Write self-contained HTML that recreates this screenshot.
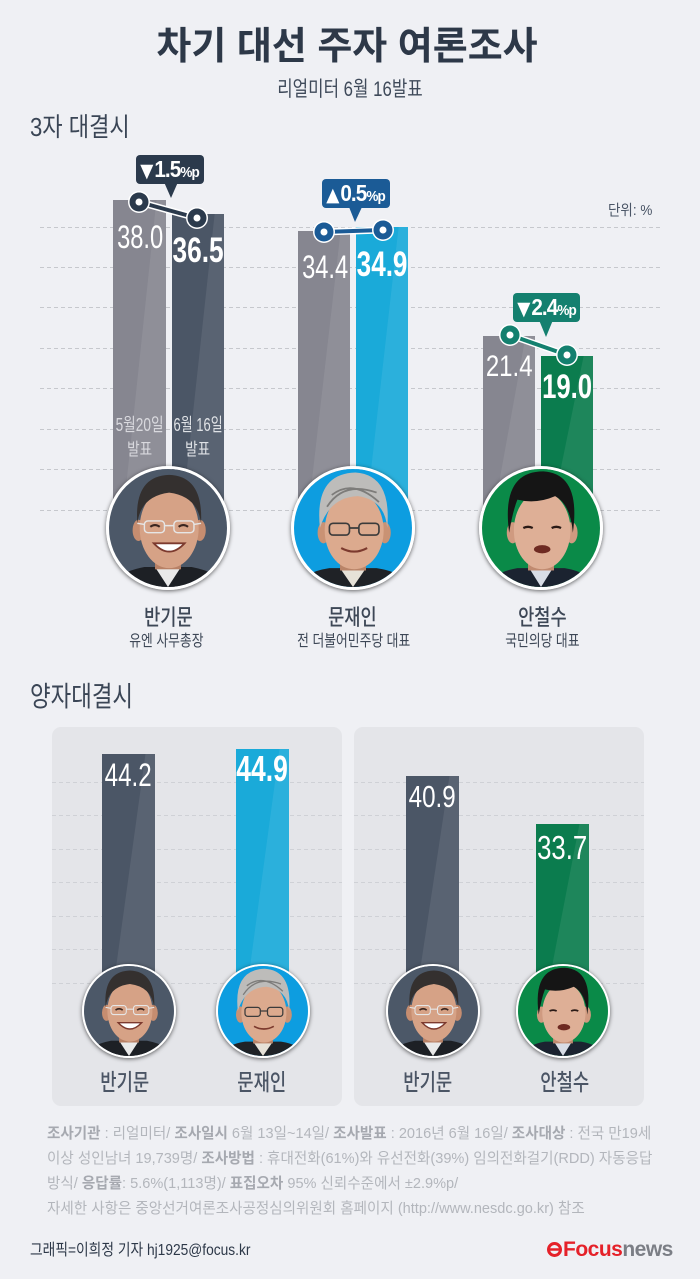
<!DOCTYPE html>
<html><head><meta charset="utf-8">
<style>
*{margin:0;padding:0;box-sizing:border-box}
html,body{width:700px;height:1279px;background:#eff0f4;overflow:hidden}
#w{position:relative;width:700px;height:1279px;background:#eff0f4;font-family:"Liberation Sans","Noto Sans CJK KR",sans-serif;overflow:hidden}
.c{position:absolute;width:0;display:flex;justify-content:center;white-space:nowrap;line-height:1}
.c>span{display:inline-block;flex:none}
.l{position:absolute;white-space:nowrap;line-height:1}
.l>span{display:inline-block;transform-origin:0 0}
.bar{position:absolute;overflow:hidden}
.bar::after{content:"";position:absolute;left:0;top:0;right:0;bottom:0;background:rgba(255,255,255,.08);clip-path:polygon(82% 0,100% 0,100% 100%,18% 100%)}
.ph{position:absolute;border-radius:50%;border:3px solid #fff;overflow:hidden;box-shadow:0 1px 4px rgba(0,0,0,.6)}
.ph svg{display:block;width:100%;height:100%}
.panel{position:absolute;background:#e4e5e9;border-radius:9px}
.n{color:#fff}
.badge{position:absolute;height:29px;border-radius:4px;display:flex;align-items:center;justify-content:center;color:#fff;white-space:nowrap;line-height:1}
.badge .g{display:inline-block;transform:scaleX(.9)}
.badge .t{font-family:"DejaVu Sans",sans-serif;font-size:19px;margin-right:1px}
.badge b{font-size:23px;letter-spacing:-1px}
.badge small{font-size:15px;font-weight:bold;letter-spacing:-1px}
.nm{color:#3d4756}
.ft{color:#b3b6bc;font-size:15px}
.ft b{color:#a6a9b0}
</style></head>
<body><div id="w">

<svg width="0" height="0" style="position:absolute">
<defs>
<g id="ban">
<rect x="-50" y="-50" width="100" height="100" fill="#4c5868"/>
<path d="M-50 52 Q-46 38 -20 33 L20 33 Q46 38 50 52Z" fill="#1d2025"/>
<path d="M-11 33 L0 50 L11 33Z" fill="#e9e9e9"/>
<rect x="-11" y="18" width="22" height="17" fill="#b88166"/>
<ellipse cx="-25" cy="2" rx="5" ry="9" fill="#c68d70"/>
<ellipse cx="27" cy="2" rx="5" ry="9" fill="#c68d70"/>
<ellipse cx="1" cy="0" rx="25" ry="34" fill="#d6a286"/>
<path d="M-26 -4 Q-29 -44 1 -45 Q30 -44 28 -4 Q25 -27 1 -30 Q-23 -27 -26 -4Z" fill="#34302f"/>
<g fill="none" stroke="#e6e6e6" stroke-width="1.2"><rect x="-20" y="-6" width="17" height="10" rx="3"/><rect x="5" y="-6" width="17" height="10" rx="3"/><path d="M-3 -2H5M-20 -3L-26 -4M22 -3L28 -4"/></g>
<path d="M-15 -1Q-11 -4 -7 -1M9 -1Q13 -4 17 -1" stroke="#3a2620" stroke-width="1.8" fill="none"/>
<path d="M-12 13 Q1 27 14 13Z" fill="#fff" stroke="#7c3a2e" stroke-width="1.6"/>
</g>
<g id="moon">
<rect x="-50" y="-50" width="100" height="100" fill="#0d9de0"/>
<path d="M-50 54 Q-46 38 -20 34 L20 34 Q46 38 50 54Z" fill="#1f2226"/>
<path d="M-11 34 L0 50 L11 34Z" fill="#e6e2d8"/>
<rect x="-11" y="18" width="22" height="18" fill="#b98468"/>
<ellipse cx="-25" cy="4" rx="5" ry="9" fill="#c99274"/>
<ellipse cx="27" cy="4" rx="5" ry="9" fill="#c99274"/>
<ellipse cx="1" cy="2" rx="25" ry="33" fill="#dcaa8e"/>
<path d="M-28 0 Q-33 -46 2 -47 Q33 -45 29 0 Q27 -24 4 -27 Q-20 -26 -28 0Z" fill="#bdbcba"/>
<path d="M-22 -18 Q-8 -40 20 -30 M-18 -28 Q0 -42 22 -22" stroke="#7d7c7a" stroke-width="1.5" fill="none"/>
<g fill="none" stroke="#3b3b3b" stroke-width="1.4"><rect x="-20" y="-4" width="17" height="10" rx="3"/><rect x="5" y="-4" width="17" height="10" rx="3"/><path d="M-3 0H5"/></g>
<path d="M-10 17 Q1 23 12 17" stroke="#7c3a2e" stroke-width="1.8" fill="none"/>
</g>
<g id="ahn">
<rect x="-50" y="-50" width="100" height="100" fill="#0a8a48"/>
<path d="M-50 54 Q-44 38 -20 34 L20 34 Q44 38 50 54Z" fill="#1b2330"/>
<path d="M-10 34 L0 50 L10 34Z" fill="#d8dde6"/>
<rect x="-11" y="18" width="22" height="18" fill="#c08a70"/>
<ellipse cx="-24" cy="4" rx="5" ry="9" fill="#cf9a80"/>
<ellipse cx="26" cy="4" rx="5" ry="9" fill="#cf9a80"/>
<ellipse cx="1" cy="2" rx="24" ry="33" fill="#deaf96"/>
<path d="M-27 4 Q-34 -48 2 -48 Q34 -46 27 4 Q25 -20 12 -27 Q-4 -20 -20 -24 Q-24 -14 -27 4Z" fill="#151515"/>
<path d="M-15 0Q-11 -2 -7 0M9 0Q13 -2 17 0" stroke="#2a1a16" stroke-width="2" fill="none"/>
<ellipse cx="1" cy="18" rx="7" ry="3.5" fill="#6e2a22"/>
</g>
</defs>
</svg>

<!-- Title -->
<div class="c" style="left:347px;top:28px;font-size:38px;font-weight:700;color:#2d3848"><span>차기 대선 주자 여론조사</span></div>
<div class="c" style="left:350px;top:79px;font-size:21px;color:#3f4a5a"><span style="transform:scaleX(.8)">리얼미터 6월 16발표</span></div>

<div class="l" style="left:30px;top:114px;font-size:26px;color:#3a4555"><span style="transform:scaleX(.85)">3자 대결시</span></div>
<div class="l" style="left:608px;top:203px;font-size:15px;color:#4a5566"><span style="transform:scaleX(.9)">단위: %</span></div>

<!-- panels -->
<div class="panel" style="left:52px;top:727px;width:290px;height:379px"></div>
<div class="panel" style="left:354px;top:727px;width:290px;height:379px"></div>

<!-- gridlines -->
<svg style="position:absolute;left:0;top:0" width="700" height="1279">
<g stroke="#c6c8cd" stroke-width="1" stroke-dasharray="4 3">
<path d="M40 227.5H663M40 267.5H663M40 307.5H663M40 348.5H663M40 388.5H663M40 429.5H663M40 469.5H663M40 510.5H663"/>
</g>
<g stroke="#cfd1d6" stroke-width="1" stroke-dasharray="4 3">
<path d="M52 782.5H342M52 815.5H342M52 849.5H342M52 882.5H342M52 916.5H342M52 949.5H342M52 983.5H342"/>
<path d="M354 782.5H644M354 815.5H644M354 849.5H644M354 882.5H644M354 916.5H644M354 949.5H644M354 983.5H644"/>
</g>
</svg>

<!-- top bars -->
<div class="bar" style="left:113px;top:200px;width:53px;height:320px;background:#868690"></div>
<div class="bar" style="left:172px;top:214px;width:52px;height:306px;background:#4b5666"></div>
<div class="bar" style="left:298px;top:231px;width:52px;height:289px;background:#868690"></div>
<div class="bar" style="left:356px;top:227px;width:52px;height:293px;background:#1aaad9"></div>
<div class="bar" style="left:483px;top:336px;width:52px;height:184px;background:#868690"></div>
<div class="bar" style="left:541px;top:356px;width:52px;height:164px;background:#0b7c4e"></div>

<!-- top values -->
<div class="c n" style="left:140px;top:221px;font-size:32px"><span style="transform:scaleX(.74)">38.0</span></div>
<div class="c n" style="left:198px;top:233px;font-size:35px;font-weight:bold"><span style="transform:scaleX(.75)">36.5</span></div>
<div class="c n" style="left:325px;top:251px;font-size:32px"><span style="transform:scaleX(.74)">34.4</span></div>
<div class="c n" style="left:382px;top:247px;font-size:35px;font-weight:bold"><span style="transform:scaleX(.745)">34.9</span></div>
<div class="c n" style="left:509px;top:352px;font-size:30px"><span style="transform:scaleX(.8)">21.4</span></div>
<div class="c n" style="left:567px;top:370px;font-size:34px;font-weight:bold"><span style="transform:scaleX(.756)">19.0</span></div>

<!-- date labels -->
<div class="c" style="left:140px;top:416px;font-size:18px;color:#d9d9de"><span style="transform:scaleX(.76)">5월20일</span></div>
<div class="c" style="left:140px;top:441px;font-size:17px;color:#d9d9de"><span style="transform:scaleX(.8)">발표</span></div>
<div class="c" style="left:198px;top:416px;font-size:18px;color:#dfe2e6"><span style="transform:scaleX(.72)">6월 16일</span></div>
<div class="c" style="left:198px;top:441px;font-size:17px;color:#dfe2e6"><span style="transform:scaleX(.8)">발표</span></div>

<!-- photos top -->
<div class="ph" style="left:106px;top:466px;width:124px;height:124px"><svg viewBox="-50 -50 100 100"><use href="#ban"/></svg></div>
<div class="ph" style="left:291px;top:466px;width:124px;height:124px"><svg viewBox="-50 -50 100 100"><use href="#moon"/></svg></div>
<div class="ph" style="left:479px;top:466px;width:124px;height:124px"><svg viewBox="-50 -50 100 100"><use href="#ahn"/></svg></div>

<!-- badges & connectors -->
<svg style="position:absolute;left:0;top:0" width="700" height="600">
<polygon points="164,182 178,182 171,198" fill="#2b3a4c"/>
<polygon points="349,207 362,207 355,222" fill="#1b5b96"/>
<polygon points="539,320 553,320 546,337" fill="#14806f"/>
<g stroke-linecap="round">
<line x1="139" y1="202" x2="197" y2="218" stroke="#fff" stroke-width="7"/>
<line x1="139" y1="202" x2="197" y2="218" stroke="#2b3a4c" stroke-width="4"/>
<line x1="324" y1="232" x2="383" y2="230" stroke="#fff" stroke-width="7"/>
<line x1="324" y1="232" x2="383" y2="230" stroke="#1b5b96" stroke-width="4"/>
<line x1="510" y1="335" x2="567" y2="355" stroke="#fff" stroke-width="7"/>
<line x1="510" y1="335" x2="567" y2="355" stroke="#14806f" stroke-width="4"/>
</g>
<g>
<circle cx="139" cy="202" r="11" fill="#fff"/><circle cx="139" cy="202" r="9.5" fill="#2b3a4c"/><circle cx="139" cy="202" r="3.5" fill="#fff"/>
<circle cx="197" cy="218" r="11" fill="#fff"/><circle cx="197" cy="218" r="9.5" fill="#2b3a4c"/><circle cx="197" cy="218" r="3.5" fill="#fff"/>
<circle cx="324" cy="232" r="11" fill="#fff"/><circle cx="324" cy="232" r="9.5" fill="#1b5b96"/><circle cx="324" cy="232" r="3.5" fill="#fff"/>
<circle cx="383" cy="230" r="11" fill="#fff"/><circle cx="383" cy="230" r="9.5" fill="#1b5b96"/><circle cx="383" cy="230" r="3.5" fill="#fff"/>
<circle cx="510" cy="335" r="11" fill="#fff"/><circle cx="510" cy="335" r="9.5" fill="#14806f"/><circle cx="510" cy="335" r="3.5" fill="#fff"/>
<circle cx="567" cy="355" r="11" fill="#fff"/><circle cx="567" cy="355" r="9.5" fill="#14806f"/><circle cx="567" cy="355" r="3.5" fill="#fff"/>
</g>
</svg>
<div class="badge" style="left:136px;top:155px;width:68px;background:#2b3a4c"><span class="g"><span class="t">▼</span><b>1.5</b><small>%p</small></span></div>
<div class="badge" style="left:322px;top:179px;width:68px;background:#1b5b96"><span class="g"><span class="t">▲</span><b>0.5</b><small>%p</small></span></div>
<div class="badge" style="left:513px;top:293px;width:67px;background:#14806f"><span class="g"><span class="t">▼</span><b>2.4</b><small>%p</small></span></div>

<!-- names top -->
<div class="c nm" style="left:168px;top:607px;font-size:22px;font-weight:500"><span style="transform:scaleX(.8)">반기문</span></div>
<div class="c nm" style="left:166px;top:634px;font-size:16px"><span style="transform:scaleX(.8)">유엔 사무총장</span></div>
<div class="c nm" style="left:352px;top:607px;font-size:22px;font-weight:500"><span style="transform:scaleX(.8)">문재인</span></div>
<div class="c nm" style="left:354px;top:634px;font-size:16px"><span style="transform:scaleX(.8)">전 더불어민주당 대표</span></div>
<div class="c nm" style="left:542px;top:607px;font-size:22px;font-weight:500"><span style="transform:scaleX(.8)">안철수</span></div>
<div class="c nm" style="left:542px;top:634px;font-size:16px"><span style="transform:scaleX(.8)">국민의당 대표</span></div>

<div class="l" style="left:30px;top:683px;font-size:28px;color:#3a4555"><span style="transform:scaleX(.8)">양자대결시</span></div>

<!-- bottom bars -->
<div class="bar" style="left:102px;top:754px;width:53px;height:246px;background:#4b5666"></div>
<div class="bar" style="left:236px;top:749px;width:53px;height:251px;background:#1aaad9"></div>
<div class="bar" style="left:406px;top:776px;width:53px;height:224px;background:#4b5666"></div>
<div class="bar" style="left:536px;top:824px;width:53px;height:176px;background:#0b7c4e"></div>

<div class="c n" style="left:128.5px;top:759px;font-size:32px"><span style="transform:scaleX(.755)">44.2</span></div>
<div class="c n" style="left:262.5px;top:751px;font-size:36px;font-weight:bold"><span style="transform:scaleX(.735)">44.9</span></div>
<div class="c n" style="left:432.5px;top:781px;font-size:31px"><span style="transform:scaleX(.78)">40.9</span></div>
<div class="c n" style="left:562.5px;top:831px;font-size:33px"><span style="transform:scaleX(.78)">33.7</span></div>

<div class="ph" style="left:81.5px;top:964px;width:94px;height:94px;border-width:2.5px"><svg viewBox="-50 -50 100 100"><use href="#ban"/></svg></div>
<div class="ph" style="left:215.5px;top:964px;width:94px;height:94px;border-width:2.5px"><svg viewBox="-50 -50 100 100"><use href="#moon"/></svg></div>
<div class="ph" style="left:385.5px;top:964px;width:94px;height:94px;border-width:2.5px"><svg viewBox="-50 -50 100 100"><use href="#ban"/></svg></div>
<div class="ph" style="left:515.5px;top:964px;width:94px;height:94px;border-width:2.5px"><svg viewBox="-50 -50 100 100"><use href="#ahn"/></svg></div>

<div class="c" style="left:125px;top:1071px;font-size:23px;font-weight:500;color:#4b5565"><span style="transform:scaleX(.77)">반기문</span></div>
<div class="c" style="left:262px;top:1071px;font-size:23px;font-weight:500;color:#4b5565"><span style="transform:scaleX(.77)">문재인</span></div>
<div class="c" style="left:428px;top:1071px;font-size:23px;font-weight:500;color:#4b5565"><span style="transform:scaleX(.77)">반기문</span></div>
<div class="c" style="left:565px;top:1071px;font-size:23px;font-weight:500;color:#4b5565"><span style="transform:scaleX(.77)">안철수</span></div>

<!-- footer -->
<div class="l ft" style="left:47px;top:1126px"><span style="transform:scaleX(.97)"><b>조사기관</b> : 리얼미터/ <b>조사일시</b> 6월 13일~14일/ <b>조사발표</b> : 2016년 6월 16일/ <b>조사대상</b> : 전국 만19세</span></div>
<div class="l ft" style="left:47px;top:1151px"><span style="transform:scaleX(.97)">이상 성인남녀 19,739명/ <b>조사방법</b> : 휴대전화(61%)와 유선전화(39%) 임의전화걸기(RDD) 자동응답</span></div>
<div class="l ft" style="left:47px;top:1176px"><span style="transform:scaleX(.97)">방식/ <b>응답률</b>: 5.6%(1,113명)/ <b>표집오차</b> 95% 신뢰수준에서 ±2.9%p/</span></div>
<div class="l ft" style="left:47px;top:1201px"><span style="transform:scaleX(.97)">자세한 사항은 중앙선거여론조사공정심의위원회 홈페이지 (http://www.nesdc.go.kr) 참조</span></div>

<div class="l" style="left:30px;top:1243px;font-size:16px;color:#2d3848"><span style="transform:scaleX(.86)">그래픽=이희정 기자 hj1925@focus.kr</span></div>

<svg style="position:absolute;left:546px;top:1241px" width="17" height="17"><circle cx="8.5" cy="8.5" r="6" fill="none" stroke="#e52129" stroke-width="3"/><path d="M3.5 8.5H13" stroke="#e52129" stroke-width="2.5"/></svg>
<div class="l" style="left:563px;top:1239px;font-size:21px;font-weight:bold;letter-spacing:-0.5px"><span style="color:#e52129">Focus</span><span style="color:#7b7e85">news</span></div>

</div></body></html>
